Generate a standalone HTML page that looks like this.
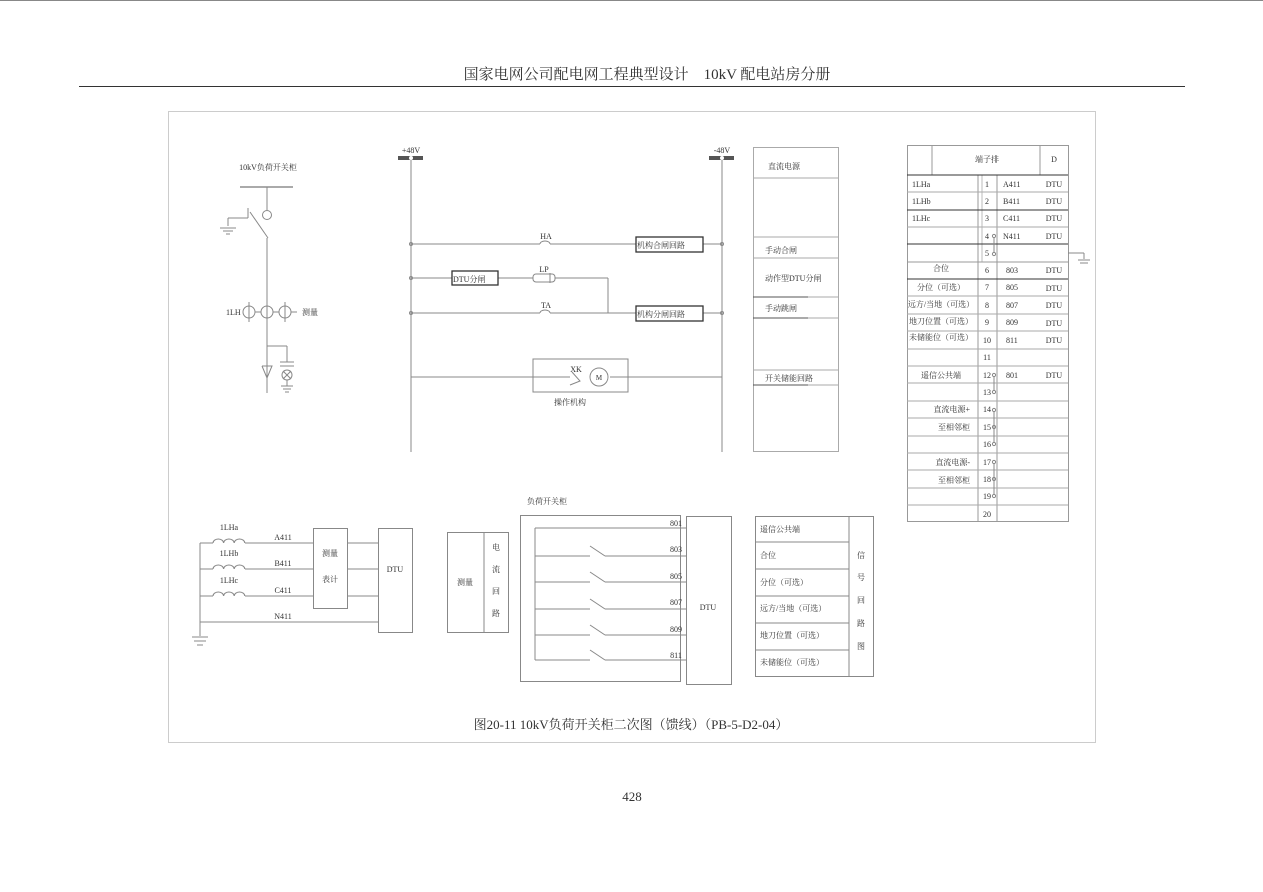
<!DOCTYPE html>
<html><head><meta charset="utf-8"><style>
html,body{margin:0;padding:0;background:#fff;}
svg{display:block;}
text{font-family:"Liberation Serif","Noto Serif CJK SC",serif;fill:#333;}
</style></head><body>
<svg width="1263" height="892" viewBox="0 0 1263 892" xmlns="http://www.w3.org/2000/svg">
<rect width="1263" height="892" fill="#fff"/>
<line x1="0" y1="0.5" x2="1263" y2="0.5" stroke="#888"/>
<text x="647" y="79" font-size="15" text-anchor="middle" fill="#222">国家电网公司配电网工程典型设计　10kV 配电站房分册</text>
<line x1="79" y1="86.5" x2="1185" y2="86.5" stroke="#333" stroke-width="1"/>
<rect x="168.5" y="111.5" width="927" height="631" fill="none" stroke="#ccc"/>

<g stroke="#888" fill="none" stroke-width="1">
<line x1="240" y1="187" x2="293" y2="187" stroke="#aaa" stroke-width="2"/>
<line x1="267" y1="187" x2="267" y2="210"/>
<circle cx="267" cy="215" r="4.5"/>
<line x1="250" y1="212" x2="268" y2="238"/>
<line x1="248" y1="208" x2="248" y2="218"/>
<line x1="228" y1="218" x2="248" y2="218"/>
<line x1="228" y1="218" x2="228" y2="226"/>
<line x1="220" y1="228" x2="236" y2="228"/>
<line x1="223" y1="231" x2="233" y2="231"/>
<line x1="226" y1="234" x2="230" y2="234"/>
<line x1="267" y1="238" x2="267" y2="393"/>
<circle cx="249" cy="312" r="6"/><circle cx="267" cy="312" r="6"/><circle cx="285" cy="312" r="6"/>
<line x1="249" y1="302" x2="249" y2="322"/><line x1="285" y1="302" x2="285" y2="322"/>
<line x1="255" y1="312" x2="261" y2="312"/><line x1="273" y1="312" x2="279" y2="312"/><line x1="291" y1="312" x2="297" y2="312"/>
<line x1="267" y1="346" x2="287" y2="346"/><line x1="287" y1="346" x2="287" y2="362"/>
<polyline points="262,366 272,366 267,378 262,366"/>
<line x1="280" y1="362" x2="294" y2="362"/><line x1="280" y1="366" x2="294" y2="366"/>
<circle cx="287" cy="375" r="5"/><line x1="283" y1="371" x2="291" y2="379"/><line x1="291" y1="371" x2="283" y2="379"/>
<line x1="287" y1="380" x2="287" y2="386"/>
<line x1="281" y1="386" x2="293" y2="386"/><line x1="283" y1="389" x2="291" y2="389"/><line x1="285" y1="392" x2="289" y2="392"/>

<line x1="411" y1="160" x2="411" y2="452"/>
<line x1="722" y1="160" x2="722" y2="452"/>
<line x1="411" y1="244" x2="540" y2="244"/><line x1="550" y1="244" x2="636" y2="244"/><line x1="703" y1="244" x2="722" y2="244"/>
<path d="M540,244 a5,3 0 0 1 10,0"/>
<line x1="411" y1="278" x2="452" y2="278"/><line x1="498" y1="278" x2="533" y2="278"/><line x1="555" y1="278" x2="608" y2="278"/>
<rect x="533" y="274" width="22" height="8" rx="3"/><line x1="550" y1="273" x2="550" y2="283"/>
<line x1="608" y1="278" x2="608" y2="313"/>
<line x1="411" y1="313" x2="540" y2="313"/><line x1="550" y1="313" x2="636" y2="313"/><line x1="703" y1="313" x2="722" y2="313"/>
<path d="M540,313 a5,3 0 0 1 10,0"/>
<line x1="411" y1="377" x2="570" y2="377"/><line x1="610" y1="377" x2="722" y2="377"/>
<rect x="533" y="359" width="95" height="33"/>
<polyline points="570,385 580,381 572,372"/>
<circle cx="599" cy="377" r="9"/>
<circle cx="411" cy="244" r="1.5"/><circle cx="411" cy="278" r="1.5"/><circle cx="411" cy="313" r="1.5"/>
<circle cx="722" cy="244" r="1.5"/><circle cx="722" cy="313" r="1.5"/>
</g>
<rect x="398" y="156" width="25" height="4" fill="#555"/><circle cx="411" cy="158" r="2" fill="#fff"/>
<rect x="709" y="156" width="25" height="4" fill="#555"/><circle cx="722" cy="158" r="2" fill="#fff"/>
<g stroke="#333" fill="none" stroke-width="1.3">
<rect x="636" y="237" width="67" height="15"/>
<rect x="452" y="271" width="46" height="14"/>
<rect x="636" y="306" width="67" height="15"/>
</g>
<g font-size="8">
<text x="411" y="153" text-anchor="middle">+48V</text>
<text x="722" y="153" text-anchor="middle">-48V</text>
<text x="546" y="239" text-anchor="middle">HA</text>
<text x="544" y="272" text-anchor="middle">LP</text>
<text x="546" y="308" text-anchor="middle">TA</text>
<text x="576" y="372" text-anchor="middle">XK</text>
<text x="599" y="380" text-anchor="middle" font-size="7">M</text>
<text x="637" y="248">机构合闸回路</text>
<text x="453" y="282">DTU分闸</text>
<text x="637" y="317">机构分闸回路</text>
<text x="570" y="405" text-anchor="middle">操作机构</text>
<text x="268" y="170" text-anchor="middle">10kV负荷开关柜</text>
<text x="226" y="315">1LH</text>
<text x="302" y="315">测量</text>
</g>

<g stroke="#aaa" fill="none">
<rect x="753.5" y="147.5" width="85" height="304"/>
<line x1="753" y1="178" x2="838" y2="178"/>
<line x1="753" y1="237" x2="838" y2="237"/>
<line x1="753" y1="258" x2="838" y2="258"/>
<line x1="753" y1="297" x2="838" y2="297"/>
<line x1="753" y1="318" x2="838" y2="318"/>
<line x1="753" y1="370" x2="838" y2="370"/>
<line x1="753" y1="385" x2="838" y2="385"/>
</g>
<g stroke="#555"><line x1="753" y1="297" x2="808" y2="297"/><line x1="753" y1="318" x2="808" y2="318"/><line x1="753" y1="385" x2="808" y2="385"/></g>
<g font-size="8">
<text x="768" y="169">直流电源</text>
<text x="765" y="253">手动合闸</text>
<text x="765" y="281">动作型DTU分闸</text>
<text x="765" y="311">手动跳闸</text>
<text x="765" y="381">开关储能回路</text>
</g>

<g stroke="#999" fill="none">
<rect x="907.5" y="145.5" width="161" height="376"/>
<line x1="932" y1="145" x2="932" y2="175"/>
<line x1="1040" y1="145" x2="1040" y2="175"/>
<line x1="978" y1="175" x2="978" y2="522"/>
<line x1="997" y1="175" x2="997" y2="522"/>
<line x1="982" y1="175" x2="982" y2="262" stroke="#bbb"/>
</g>
<g stroke="#aaa">
<line x1="907" y1="192" x2="1068" y2="192"/><line x1="907" y1="227" x2="1068" y2="227"/>
<line x1="907" y1="296" x2="1068" y2="296"/><line x1="907" y1="314" x2="1068" y2="314"/>
<line x1="907" y1="331" x2="1068" y2="331"/><line x1="907" y1="349" x2="1068" y2="349"/>
<line x1="907" y1="366" x2="1068" y2="366"/><line x1="907" y1="383" x2="1068" y2="383"/>
<line x1="907" y1="401" x2="1068" y2="401"/><line x1="907" y1="418" x2="1068" y2="418"/>
<line x1="907" y1="436" x2="1068" y2="436"/><line x1="907" y1="453" x2="1068" y2="453"/>
<line x1="907" y1="470" x2="1068" y2="470"/><line x1="907" y1="488" x2="1068" y2="488"/>
<line x1="907" y1="505" x2="1068" y2="505"/>
</g>
<g stroke="#333">
<line x1="907" y1="175" x2="1068" y2="175"/><line x1="907" y1="210" x2="1068" y2="210"/>
<line x1="907" y1="244" x2="1068" y2="244"/><line x1="907" y1="262" x2="1068" y2="262" stroke="#999"/>
<line x1="907" y1="279" x2="1068" y2="279"/>
</g>
<g stroke="#888" fill="none">
<line x1="1068" y1="253" x2="1084" y2="253"/><line x1="1084" y1="253" x2="1084" y2="259"/>
<line x1="1078" y1="260" x2="1090" y2="260"/><line x1="1080" y1="263" x2="1088" y2="263"/>
<circle cx="994" cy="236" r="1.6"/><circle cx="994" cy="254" r="1.6"/>
<line x1="994" y1="238" x2="994" y2="252"/>
<circle cx="994" cy="375" r="1.6"/><circle cx="994" cy="392" r="1.6"/><line x1="994" y1="377" x2="994" y2="390"/>
<circle cx="994" cy="410" r="1.6"/><circle cx="994" cy="427" r="1.6"/><circle cx="994" cy="444" r="1.6"/>
<line x1="994" y1="412" x2="994" y2="442"/>
<circle cx="994" cy="462" r="1.6"/><circle cx="994" cy="479" r="1.6"/><circle cx="994" cy="496" r="1.6"/>
<line x1="994" y1="464" x2="994" y2="494"/>
</g>
<g font-size="8">
<text x="987" y="162" text-anchor="middle">端子排</text>
<text x="1054" y="162" text-anchor="middle">D</text>
<text x="912" y="187">1LHa</text><text x="912" y="204">1LHb</text><text x="912" y="221">1LHc</text>
<text x="941" y="271" text-anchor="middle">合位</text>
<text x="941" y="290" text-anchor="middle">分位（可选）</text>
<text x="941" y="307" text-anchor="middle">远方/当地（可选）</text>
<text x="941" y="324" text-anchor="middle">地刀位置（可选）</text>
<text x="941" y="340" text-anchor="middle">未储能位（可选）</text>
<text x="941" y="378" text-anchor="middle">遥信公共端</text>
<text x="970" y="412" text-anchor="end">直流电源+</text>
<text x="970" y="430" text-anchor="end">至相邻柜</text>
<text x="970" y="465" text-anchor="end">直流电源-</text>
<text x="970" y="483" text-anchor="end">至相邻柜</text>
<g text-anchor="middle">
<text x="987" y="187">1</text><text x="987" y="204">2</text><text x="987" y="221">3</text><text x="987" y="239">4</text>
<text x="987" y="256">5</text><text x="987" y="273">6</text><text x="987" y="290">7</text><text x="987" y="308">8</text>
<text x="987" y="325">9</text><text x="987" y="343">10</text><text x="987" y="360">11</text><text x="987" y="378">12</text>
<text x="987" y="395">13</text><text x="987" y="412">14</text><text x="987" y="430">15</text><text x="987" y="447">16</text>
<text x="987" y="465">17</text><text x="987" y="482">18</text><text x="987" y="499">19</text><text x="987" y="517">20</text>
</g>
<text x="1003" y="187">A411</text><text x="1003" y="204">B411</text><text x="1003" y="221">C411</text><text x="1003" y="239">N411</text>
<text x="1006" y="273">803</text><text x="1006" y="290">805</text><text x="1006" y="308">807</text><text x="1006" y="325">809</text>
<text x="1006" y="343">811</text><text x="1006" y="378">801</text>
<g text-anchor="middle">
<text x="1054" y="187">DTU</text><text x="1054" y="204">DTU</text><text x="1054" y="221">DTU</text><text x="1054" y="239">DTU</text>
<text x="1054" y="273">DTU</text><text x="1054" y="291">DTU</text><text x="1054" y="308">DTU</text><text x="1054" y="326">DTU</text>
<text x="1054" y="343">DTU</text><text x="1054" y="378">DTU</text>
</g>
</g>

<g stroke="#888" fill="none">
<line x1="200" y1="543" x2="200" y2="636"/>
<line x1="192" y1="637" x2="208" y2="637"/><line x1="194" y1="641" x2="206" y2="641"/><line x1="197" y1="645" x2="203" y2="645"/>
<line x1="200" y1="543" x2="213" y2="543"/><line x1="200" y1="569" x2="213" y2="569"/><line x1="200" y1="596" x2="213" y2="596"/>
<path d="M213,543 a5.3,4 0 0 1 10.6,0 a5.3,4 0 0 1 10.6,0 a5.3,4 0 0 1 10.6,0"/>
<path d="M213,569 a5.3,4 0 0 1 10.6,0 a5.3,4 0 0 1 10.6,0 a5.3,4 0 0 1 10.6,0"/>
<path d="M213,596 a5.3,4 0 0 1 10.6,0 a5.3,4 0 0 1 10.6,0 a5.3,4 0 0 1 10.6,0"/>
<line x1="245" y1="543" x2="313" y2="543"/><line x1="245" y1="569" x2="313" y2="569"/><line x1="245" y1="596" x2="313" y2="596"/>
<line x1="200" y1="622" x2="378" y2="622"/>
<line x1="348" y1="543" x2="378" y2="543"/><line x1="348" y1="569" x2="378" y2="569"/><line x1="348" y1="596" x2="378" y2="596"/>
<rect x="313.5" y="528.5" width="34" height="80"/>
<rect x="378.5" y="528.5" width="34" height="104"/>
<rect x="447.5" y="532.5" width="61" height="100"/><line x1="484" y1="532" x2="484" y2="632"/>
<rect x="520.5" y="515.5" width="160" height="166"/>
<rect x="686.5" y="516.5" width="45" height="168"/>
<line x1="535" y1="528" x2="535" y2="660"/>
<line x1="535" y1="528" x2="686" y2="528"/>
<line x1="535" y1="556" x2="590" y2="556"/><line x1="590" y1="546" x2="605" y2="556"/><line x1="605" y1="556" x2="686" y2="556"/>
<line x1="535" y1="582" x2="590" y2="582"/><line x1="590" y1="572" x2="605" y2="582"/><line x1="605" y1="582" x2="686" y2="582"/>
<line x1="535" y1="609" x2="590" y2="609"/><line x1="590" y1="599" x2="605" y2="609"/><line x1="605" y1="609" x2="686" y2="609"/>
<line x1="535" y1="635" x2="590" y2="635"/><line x1="590" y1="625" x2="605" y2="635"/><line x1="605" y1="635" x2="686" y2="635"/>
<line x1="535" y1="660" x2="590" y2="660"/><line x1="590" y1="650" x2="605" y2="660"/><line x1="605" y1="660" x2="686" y2="660"/>
<rect x="755.5" y="516.5" width="118" height="160"/>
<line x1="849" y1="516" x2="849" y2="677"/>
<line x1="755" y1="542" x2="849" y2="542"/><line x1="755" y1="569" x2="849" y2="569"/>
<line x1="755" y1="596" x2="849" y2="596"/><line x1="755" y1="623" x2="849" y2="623"/>
<line x1="755" y1="650" x2="849" y2="650"/>
</g>
<g font-size="8">
<text x="229" y="530" text-anchor="middle">1LHa</text><text x="229" y="556" text-anchor="middle">1LHb</text><text x="229" y="583" text-anchor="middle">1LHc</text>
<text x="283" y="540" text-anchor="middle">A411</text><text x="283" y="566" text-anchor="middle">B411</text>
<text x="283" y="593" text-anchor="middle">C411</text><text x="283" y="619" text-anchor="middle">N411</text>
<text x="330" y="556" text-anchor="middle">测量</text><text x="330" y="582" text-anchor="middle">表计</text>
<text x="395" y="572" text-anchor="middle">DTU</text>
<text x="465" y="585" text-anchor="middle">测量</text>
<text x="496" y="550" text-anchor="middle">电</text><text x="496" y="572" text-anchor="middle">流</text>
<text x="496" y="594" text-anchor="middle">回</text><text x="496" y="616" text-anchor="middle">路</text>
<text x="527" y="504">负荷开关柜</text>
<g text-anchor="middle">
<text x="676" y="526">801</text><text x="676" y="552">803</text><text x="676" y="579">805</text>
<text x="676" y="605">807</text><text x="676" y="632">809</text><text x="676" y="658">811</text>
</g>
<text x="708" y="610" text-anchor="middle">DTU</text>
<text x="760" y="532">遥信公共端</text><text x="760" y="558">合位</text><text x="760" y="585">分位（可选）</text>
<text x="760" y="611">远方/当地（可选）</text><text x="760" y="638">地刀位置（可选）</text><text x="760" y="665">未储能位（可选）</text>
<g text-anchor="middle"><text x="861" y="558">信</text><text x="861" y="580">号</text><text x="861" y="603">回</text><text x="861" y="626">路</text><text x="861" y="649">图</text></g>
</g>
<text x="631" y="729" font-size="13" text-anchor="middle">图20-11 10kV负荷开关柜二次图（馈线）（PB-5-D2-04）</text>
<text x="632" y="801" font-size="13" text-anchor="middle" fill="#222">428</text>
</svg>
</body></html>
